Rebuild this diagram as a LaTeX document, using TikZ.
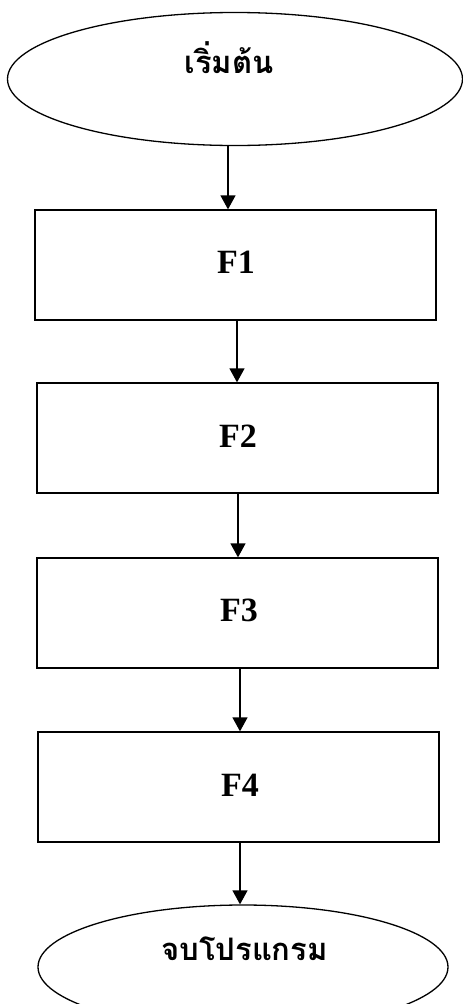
\documentclass[tikz,border=0pt]{standalone}
\usepackage{fontspec}
\setmainfont{Liberation Serif}
\newfontfamily\thaifont[Script=Thai]{Loma}
\usetikzlibrary{shapes.geometric,arrows.meta}
\begin{document}
\begin{tikzpicture}[x=1pt,y=-1pt,
  ln/.style={line width=1.3pt},
  termshape/.style={ln,draw,ellipse,inner sep=0pt},
  procbox/.style={ln,draw,rectangle,inner sep=0pt,minimum width=401pt,minimum height=110pt},
  flab/.style={font=\bfseries\fontsize{34}{36}\selectfont,inner sep=0pt},
  thlab/.style={font=\thaifont\bfseries\fontsize{31}{36}\selectfont,inner sep=0pt},
  arr/.style={ln,-{Triangle[width=15pt,length=14pt]}}]
\useasboundingbox (0,0) rectangle (463,1004);
\node[termshape,minimum width=455pt,minimum height=133pt] (start) at (235,79) {};
\node[thlab] (startlab) at (229,58) {เริ่มต้น};
\node[procbox] (f1) at (235.5,265) {};
\node[flab] (f1lab) at (236,262) {F1};
\node[procbox] (f2) at (237.5,438) {};
\node[flab] (f2lab) at (238,436) {F2};
\node[procbox] (f3) at (237.5,613) {};
\node[flab] (f3lab) at (239,610) {F3};
\node[procbox] (f4) at (238.5,787) {};
\node[flab] (f4lab) at (240,785) {F4};
\node[termshape,minimum width=410pt,minimum height=124pt] (end) at (243,967) {};
\node[thlab] (endlab) at (244.5,949) {จบโปรแกรม};
\draw[arr] ([xshift=-7pt]start.south) -- ([xshift=-7.5pt]f1.north);
\draw[arr] ([xshift=1.5pt]f1.south) -- ([xshift=-0.5pt]f2.north);
\draw[arr] ([xshift=0.5pt]f2.south) -- ([xshift=0.5pt]f3.north);
\draw[arr] ([xshift=2.5pt]f3.south) -- ([xshift=1.5pt]f4.north);
\draw[arr] ([xshift=1.5pt]f4.south) -- ([xshift=-3pt]end.north);
\end{tikzpicture}
\end{document}
